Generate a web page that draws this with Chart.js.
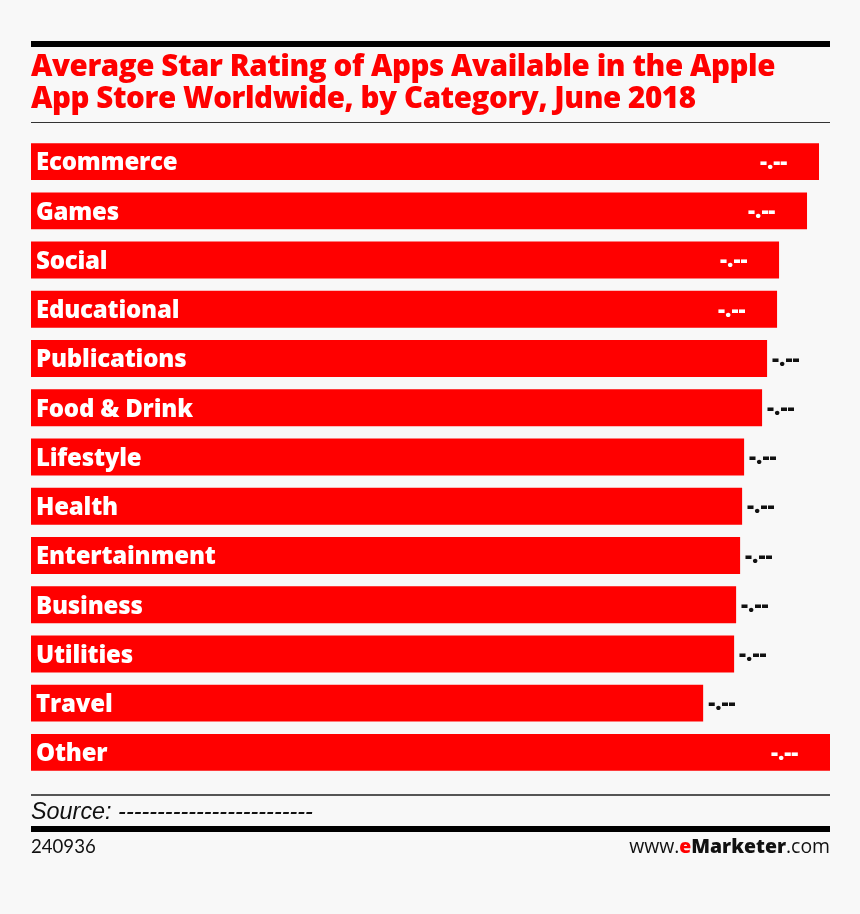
<!DOCTYPE html>
<html>
<head>
    <title>Average Star Rating of Apps</title>
    <style>
        html, body { margin: 0; padding: 0; background: #f8f8f8; }
        #wrap { position: relative; width: 860px; height: 914px; overflow: hidden; }
        #myChart { position: absolute; left: 0; top: 0; }
        .rule { position: absolute; left: 31px; width: 799px; background: #000; }
        .txt { position: absolute; white-space: nowrap; color: #111; }
        #title { left: 31px; top: 49px; font: 800 29.5px/32px "Open Sans", sans-serif; letter-spacing: -0.42px; color: #f00; }
        #source { left: 31px; top: 797px; font: italic 23.4px/28px "Liberation Sans", sans-serif; }
        #code { left: 31px; top: 834px; font: 18.6px/24px Lato, sans-serif; }
        #brand { right: 30px; top: 834px; font: 19.4px/24px "Open Sans", sans-serif; }
        #brand b { font-weight: 800; }
        #brand i { font-style: normal; font-weight: 800; color: #f00; }
    </style>
    <script src="https://cdn.jsdelivr.net/npm/chart.js"></script>
</head>
<body>
<div id="wrap">
    <canvas id="myChart" width="860" height="914"></canvas>
    <div class="rule" style="top:41px;height:6px"></div>
    <div class="txt" id="title">Average Star Rating of Apps Available in the Apple<br>App Store Worldwide, by Category, June 2018</div>
    <div class="rule" style="top:122px;height:1px;background:#333"></div>
    <div class="rule" style="top:794px;height:2px;background:#555"></div>
    <div class="txt" id="source">Source: -------------------------</div>
    <div class="rule" style="top:826px;height:6px"></div>
    <div class="txt" id="code">240936</div>
    <div class="txt" id="brand">www.<i>e</i><b>Marketer</b>.com</div>
</div>
<script>
    const categories = ['Ecommerce', 'Games', 'Social', 'Educational', 'Publications', 'Food & Drink',
        'Lifestyle', 'Health', 'Entertainment', 'Business', 'Utilities', 'Travel', 'Other'];
    const ratings = [3.945, 3.885, 3.745, 3.735, 3.685, 3.66, 3.57, 3.56, 3.55, 3.53, 3.52, 3.365, 4.00];
    const valueLabels = ['-.--', '-.--', '-.--', '-.--', '-.--', '-.--', '-.--', '-.--', '-.--', '-.--', '-.--', '-.--', '-.--'];
    const insideLabel = [true, true, true, true, false, false, false, false, false, false, false, false, true];

    // bar names and value labels
    const barText = {
        id: 'barText',
        afterDatasetsDraw(chart) {
            const ctx = chart.ctx;
            ctx.save();
            ctx.textBaseline = 'middle';
            chart.getDatasetMeta(0).data.forEach((bar, i) => {
                ctx.textAlign = 'left';
                ctx.font = '800 24px "Open Sans", sans-serif';
                ctx.letterSpacing = '-0.2px';
                ctx.fillStyle = '#fff';
                ctx.fillText(categories[i], bar.base + 5, bar.y + 2);
                ctx.font = '800 22px "Open Sans", sans-serif';
                ctx.letterSpacing = '0px';
                ctx.fillStyle = insideLabel[i] ? '#fff' : '#111';
                const x = insideLabel[i] ? bar.x - 59 : bar.x + 5;
                ctx.fillText(valueLabels[i], x, bar.y + 1);
            });
            ctx.restore();
        }
    };

    new Chart(document.getElementById('myChart').getContext('2d'), {
        type: 'bar',
        data: {
            labels: categories,
            datasets: [{
                data: ratings,
                backgroundColor: '#ff0000',
                barPercentage: 0.75,
                categoryPercentage: 1
            }]
        },
        options: {
            indexAxis: 'y',
            responsive: false,
            animation: false,
            layout: { padding: { left: 31, right: 30, top: 137, bottom: 137 } },
            scales: {
                x: { display: false, min: 0, max: 4 },
                y: { display: false }
            },
            plugins: { legend: { display: false }, tooltip: { enabled: false } }
        },
        plugins: [barText]
    });
</script>
</body>
</html>
